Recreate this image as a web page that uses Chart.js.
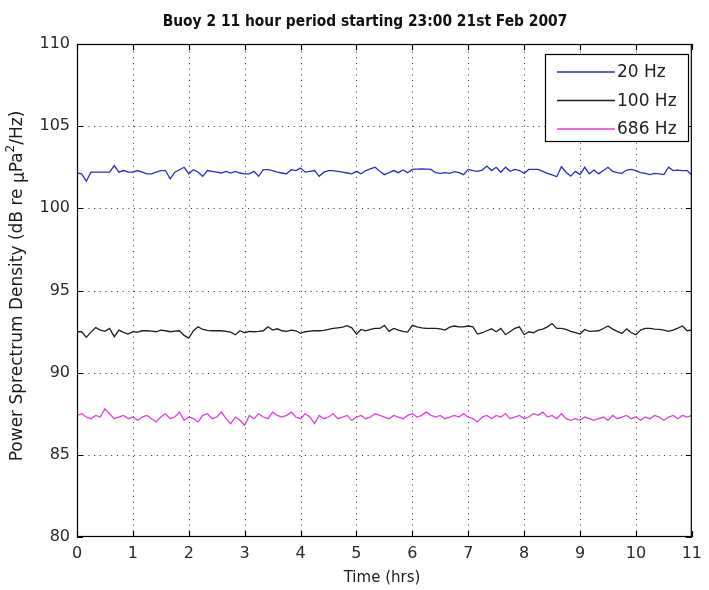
<!DOCTYPE html>
<html><head><meta charset="utf-8">
<script src="https://cdn.jsdelivr.net/npm/chart.js@4.4.1/dist/chart.umd.min.js"></script>
<style>html,body{margin:0;padding:0;background:#fff}#wrap{width:709px;height:590px}</style>
</head><body><div id="wrap"><canvas id="c" width="709" height="590"></canvas></div>
<script>
const chartTitle = "Buoy 2 11 hour period starting 23:00 21st Feb 2007";
const xAxisTitle = "Time (hrs)";
const yAxisTitleParts = ["Power Sprectrum Density (dB re ", "\u00B5", "Pa", "2", "/Hz)"];
const seriesNames = ["20 Hz", "100 Hz", "686 Hz"];
const seriesColors = ["#2c2cc8", "#1e1e1e", "#e03ce0"];
const xTicks = [0,1,2,3,4,5,6,7,8,9,10,11];
const yTicks = [80,85,90,95,100,105,110];
const sampleStepHours = 1/12; // 5-minute samples

const hz20 = [102.15,102.1,101.65,102.2,102.2,102.2,102.2,102.2,102.6,102.2,102.3,102.2,102.2,102.3,102.2,
102.1,102.1,102.2,102.3,102.3,101.8,102.2,102.35,102.5,102.1,102.35,102.2,101.95,102.3,102.25,
102.2,102.15,102.25,102.15,102.25,102.15,102.1,102.1,102.25,101.95,102.35,102.35,102.3,102.2,102.15,
102.1,102.35,102.3,102.45,102.2,102.25,102.3,101.95,102.2,102.3,102.3,102.25,102.2,102.15,102.1,
102.25,102.1,102.3,102.4,102.5,102.25,102.05,
102.17,102.3,102.17,102.33,102.17,102.37,102.39,102.4,102.39,102.37,102.17,102.13,102.17,102.13,102.23,
102.17,102.05,102.37,102.3,102.25,102.33,102.57,102.3,102.5,102.2,102.5,102.25,102.37,102.3,102.13,
102.37,102.37,102.37,102.25,102.13,102.03,101.92,102.53,102.2,101.96,102.25,102.05,102.5,102.1,102.33,
102.1,102.3,102.5,102.25,102.17,102.13,102.33,102.37,102.3,102.17,102.13,102.05,102.13,102.1,102.05,
102.5,102.3,102.33,102.3,102.3,102.03];

const hz100 = [92.49,92.49,92.15,92.47,92.75,92.59,92.51,92.69,92.19,92.59,92.45,92.35,92.49,92.47,92.55,
92.55,92.53,92.49,92.59,92.55,92.49,92.53,92.55,92.27,92.10,92.55,92.79,92.63,92.57,92.55,
92.55,92.55,92.51,92.47,92.31,92.55,92.43,92.51,92.49,92.51,92.55,92.79,92.59,92.67,92.55,
92.51,92.59,92.55,92.39,92.49,92.53,92.55,92.55,92.57,92.63,92.69,92.73,92.77,92.86,92.73,
92.35,92.63,92.55,92.63,92.69,92.69,92.88,
92.51,92.69,92.59,92.51,92.47,92.88,92.79,92.73,92.69,92.69,92.69,92.67,92.59,92.77,92.84,
92.79,92.79,92.84,92.79,92.35,92.43,92.55,92.67,92.49,92.69,92.31,92.51,92.69,92.79,92.31,
92.49,92.43,92.59,92.65,92.79,92.99,92.69,92.69,92.63,92.51,92.43,92.35,92.63,92.51,92.53,
92.55,92.69,92.84,92.65,92.51,92.39,92.67,92.43,92.31,92.59,92.69,92.69,92.65,92.63,92.59,
92.51,92.59,92.71,92.84,92.55,92.59];

const hz686 = [87.4,87.5,87.3,87.2,87.4,87.3,87.8,87.5,87.2,87.3,87.4,87.2,87.3,87.1,87.3,
87.4,87.2,87.0,87.3,87.5,87.2,87.3,87.6,87.1,87.3,87.2,87.0,87.4,87.5,87.2,
87.3,87.6,87.2,86.9,87.3,87.1,86.8,87.4,87.2,87.5,87.3,87.2,87.6,87.4,87.3,
87.4,87.6,87.3,87.2,87.5,87.3,86.9,87.4,87.2,87.3,87.5,87.2,87.3,87.4,87.1,
87.3,87.4,87.2,87.3,87.5,87.4,87.3,
87.2,87.4,87.3,87.2,87.4,87.5,87.3,87.4,87.6,87.4,87.3,87.4,87.2,87.3,87.4,
87.3,87.5,87.3,87.2,87.0,87.3,87.4,87.2,87.4,87.3,87.5,87.2,87.3,87.4,87.2,
87.3,87.5,87.4,87.6,87.3,87.4,87.2,87.5,87.2,87.1,87.2,87.1,87.3,87.2,87.1,
87.2,87.3,87.1,87.4,87.2,87.3,87.4,87.2,87.3,87.1,87.3,87.2,87.4,87.3,87.1,
87.3,87.4,87.2,87.4,87.3,87.4];

const allSeries = [hz20, hz100, hz686];
const times = hz20.map((_, i) => i * sampleStepHours);

const FONT = "'DejaVu Sans', 'Liberation Sans', Arial, sans-serif";
const PLOT = {left:77, top:44, right:703, bottom:537};

const decor = {
  id: 'decor',
  beforeDatasetsDraw(chart) {
    const {ctx, chartArea: a, scales:{x, y}} = chart;
    ctx.save();
    ctx.strokeStyle = '#333';
    ctx.lineWidth = 1;
    ctx.setLineDash([1, 4.7]);
    xTicks.forEach(t => {
      if (t === xTicks[0] || t === xTicks[xTicks.length-1]) return;
      const px = Math.round(x.getPixelForValue(t)) + 0.5;
      ctx.beginPath(); ctx.moveTo(px, a.bottom); ctx.lineTo(px, a.top); ctx.stroke();
    });
    yTicks.forEach(t => {
      if (t === yTicks[0] || t === yTicks[yTicks.length-1]) return;
      const py = Math.round(y.getPixelForValue(t)) + 0.5;
      ctx.beginPath(); ctx.moveTo(a.left, py); ctx.lineTo(a.right, py); ctx.stroke();
    });
    ctx.restore();
  },
  afterDraw(chart) {
    const {ctx, chartArea: a, scales:{x, y}} = chart;
    ctx.save();
    ctx.setLineDash([]);
    ctx.strokeStyle = '#000';
    ctx.lineWidth = 1.2;
    ctx.strokeRect(a.left + 0.5, a.top + 0.5, a.right - a.left - 1, a.bottom - a.top - 1);
    const L = 6;
    xTicks.forEach(t => {
      const px = Math.round(x.getPixelForValue(t)) + 0.5;
      ctx.beginPath();
      ctx.moveTo(px, a.bottom); ctx.lineTo(px, a.bottom - L);
      ctx.moveTo(px, a.top); ctx.lineTo(px, a.top + L);
      ctx.stroke();
    });
    yTicks.forEach(t => {
      const py = Math.round(y.getPixelForValue(t)) + 0.5;
      ctx.beginPath();
      ctx.moveTo(a.left, py); ctx.lineTo(a.left + L, py);
      ctx.moveTo(a.right, py); ctx.lineTo(a.right - L, py);
      ctx.stroke();
    });
    // title
    ctx.fillStyle = '#111';
    ctx.font = "bold 15.4px 'DejaVu Sans Condensed', 'Liberation Sans', Arial, sans-serif";
    ctx.textAlign = 'center';
    ctx.textBaseline = 'middle';
    ctx.fillText(chartTitle, 365, 22);
    // x axis title
    ctx.font = "15px " + FONT;
    ctx.fillStyle = '#1a1a1a';
    ctx.fillText(xAxisTitle, 382, 578);
    // y axis title (rotated, with mu and superscript)
    ctx.save();
    ctx.translate(18, 286);
    ctx.rotate(-Math.PI/2);
    const fMain = "17px " + FONT, fSup = "12px " + FONT;
    const segs = [
      {t: yAxisTitleParts[0], f: fMain, dy: 0},
      {t: yAxisTitleParts[1], f: fMain, dy: 2},
      {t: yAxisTitleParts[2], f: fMain, dy: 0},
      {t: yAxisTitleParts[3], f: fSup, dy: -7},
      {t: yAxisTitleParts[4], f: fMain, dy: 0}
    ];
    let total = 0;
    segs.forEach(s => { ctx.font = s.f; s.w = ctx.measureText(s.t).width; total += s.w; });
    let cx = -total/2;
    ctx.textAlign = 'left';
    segs.forEach(s => { ctx.font = s.f; ctx.fillText(s.t, cx, s.dy); cx += s.w; });
    ctx.restore();
    // legend
    const bx = 545, by = 54, bw = 143, bh = 87;
    ctx.fillStyle = '#fff';
    ctx.fillRect(bx, by, bw, bh);
    ctx.strokeStyle = '#000';
    ctx.lineWidth = 1.2;
    ctx.strokeRect(bx + 0.5, by + 0.5, bw, bh);
    ctx.font = "17px " + FONT;
    ctx.textAlign = 'left';
    ctx.textBaseline = 'middle';
    seriesNames.forEach((n, i) => {
      const ly = 72 + i * 28.5;
      ctx.strokeStyle = seriesColors[i];
      ctx.lineWidth = 1.3;
      ctx.beginPath(); ctx.moveTo(557, ly); ctx.lineTo(615, ly); ctx.stroke();
      ctx.fillStyle = '#222';
      ctx.fillText(n, 617, ly + 1);
    });
    ctx.restore();
  }
};

new Chart(document.getElementById('c'), {
  type: 'line',
  data: {
    datasets: allSeries.map((s, i) => ({
      label: seriesNames[i],
      data: s.map((v, j) => ({x: times[j], y: v})),
      borderColor: seriesColors[i],
      borderWidth: 1.3,
      pointRadius: 0,
      tension: 0,
      fill: false
    }))
  },
  options: {
    responsive: false,
    animation: false,
    events: [],
    layout: {padding: {left: 0, top: PLOT.top, right: 709 - PLOT.right, bottom: 0}},
    plugins: {legend: {display: false}, title: {display: false}, tooltip: {enabled: false}},
    scales: {
      x: {
        type: 'linear', min: 0, max: 11,
        afterBuildTicks: s => { s.ticks = xTicks.map(v => ({value: v})); },
        afterFit: s => { s.height = 590 - PLOT.bottom; },
        grid: {display: false, drawTicks: false},
        border: {display: false},
        ticks: {color: '#2a2a2a', font: {size: 16, family: FONT}, padding: 7, maxRotation: 0, autoSkip: false},
        title: {display: false}
      },
      y: {
        min: 80, max: 110,
        afterBuildTicks: s => { s.ticks = yTicks.map(v => ({value: v})); },
        afterFit: s => { s.width = PLOT.left; },
        grid: {display: false, drawTicks: false},
        border: {display: false},
        ticks: {color: '#2a2a2a', font: {size: 16, family: FONT}, padding: 7, autoSkip: false},
        title: {display: false}
      }
    }
  },
  plugins: [decor]
});
</script></body></html>
